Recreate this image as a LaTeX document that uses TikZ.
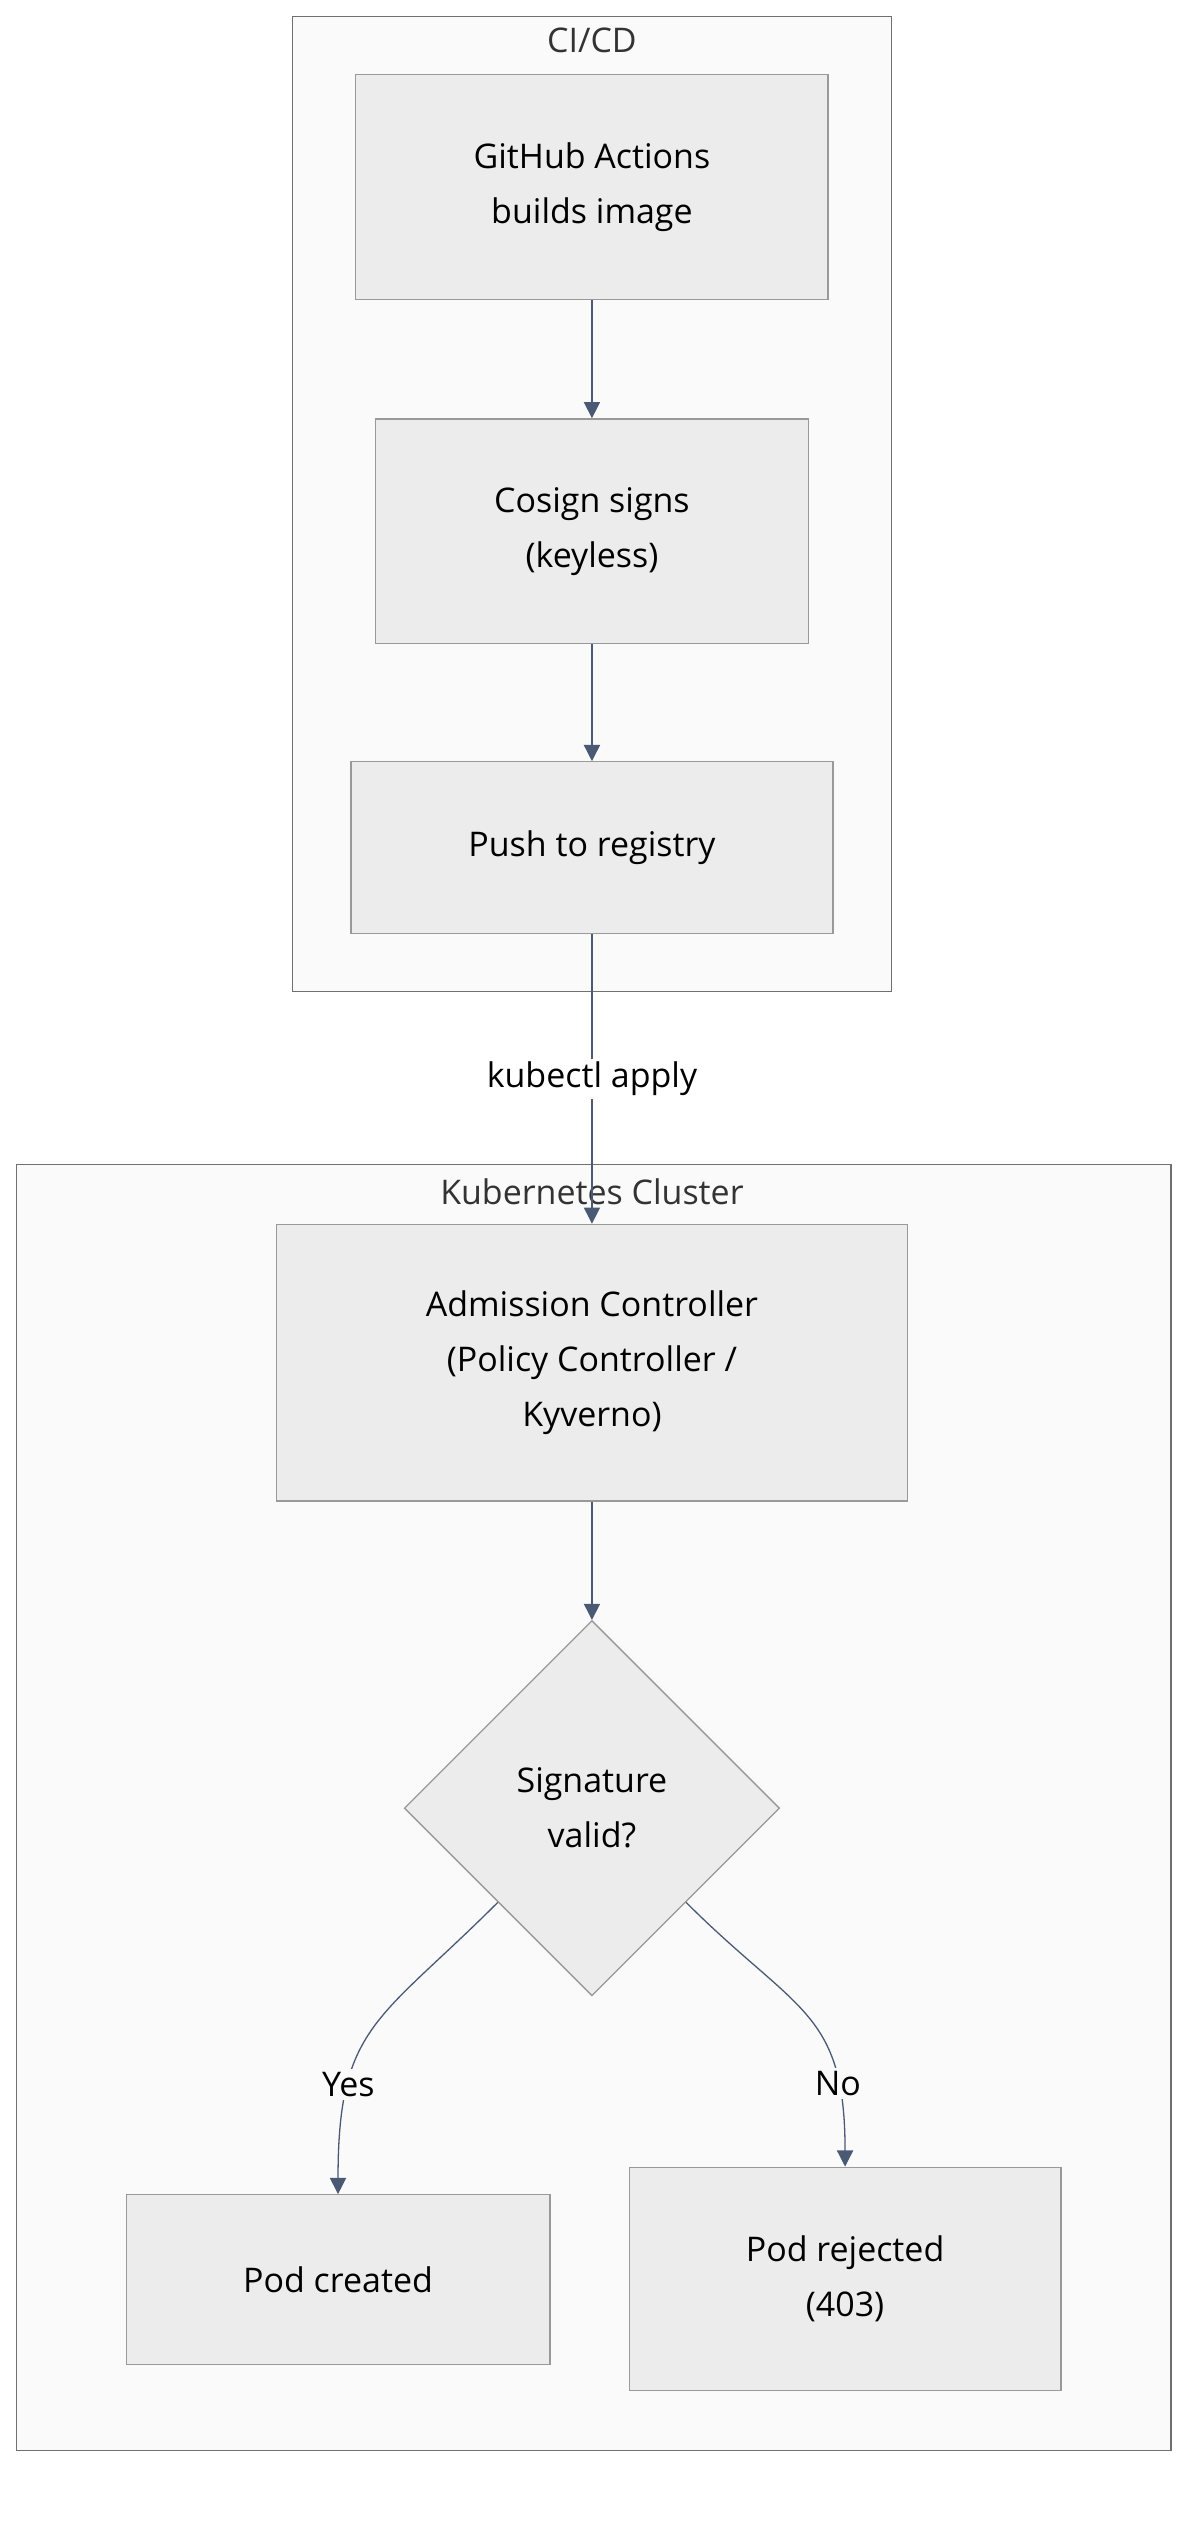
\documentclass[tikz,border=0pt]{standalone}
\usepackage{fontspec}
\setmainfont{Open Sans}
\usetikzlibrary{shapes.geometric,arrows.meta}
\definecolor{boxfill}{HTML}{ECECEC}
\definecolor{boxline}{HTML}{999999}
\definecolor{grpfill}{HTML}{FAFAFA}
\definecolor{grpline}{HTML}{707070}
\definecolor{flow}{HTML}{4A5A75}
\tikzset{
  stage/.style={rectangle, draw=boxline, fill=boxfill, align=center, font=\fontsize{10.5}{17}\selectfont, inner sep=0pt},
  check/.style={diamond, draw=boxline, fill=boxfill, align=center, font=\fontsize{10.5}{17}\selectfont, minimum width=116pt, minimum height=116pt, inner sep=0pt},
  group/.style={draw=grpline, fill=grpfill},
  grouptitle/.style={font=\fontsize{10.5}{13}\selectfont, text=black!80},
  flowline/.style={draw=flow, -{Triangle[length=5pt,width=5pt]}},
  edgelabel/.style={font=\fontsize{10.5}{13}\selectfont, inner sep=1pt}
}
\begin{document}
\begin{tikzpicture}[x=0.5pt,y=-0.5pt]
  \useasboundingbox (0,0) rectangle (743,1568);
  \fill[white] (0,0) rectangle (743,1568);

  % groups
  \draw[group] (181,10) rectangle (551,613);
  \node[grouptitle] (cicd) at (366,25) {CI/CD};
  \draw[group] (10,720) rectangle (724,1515);
  \node[grouptitle] (k8s) at (366,737) {Kubernetes Cluster};

  % stages
  \node[stage, minimum width=146pt, minimum height=69.5pt] (build) at (366,115.5) {GitHub Actions\\builds image};
  \node[stage, minimum width=134pt, minimum height=69.5pt] (sign) at (366,328.5) {Cosign signs\\(keyless)};
  \node[stage, minimum width=149pt, minimum height=53pt] (push) at (366,524) {Push to registry};
  \node[stage, minimum width=195pt, minimum height=85.5pt] (admit) at (366,842.5) {Admission Controller\\(Policy Controller /\\Kyverno)};
  \node[check] (valid) at (366,1118) {Signature\\valid?};
  \node[stage, minimum width=131pt, minimum height=52.5pt] (created) at (209,1409.5) {Pod created};
  \node[stage, minimum width=133.5pt, minimum height=69pt] (rejected) at (522.5,1409) {Pod rejected\\(403)};

  % connectors
  \draw[flowline] (build) -- (sign);
  \draw[flowline] (sign) -- (push);
  \draw[flowline] (push) -- node[edgelabel, fill=white] {kubectl apply} (admit);
  \draw[flowline] (admit) -- (valid);
  \draw[flowline] (valid.south west) to[out=-135,in=90,looseness=1.3] node[edgelabel, fill=grpfill, pos=0.72] {Yes} (created.north);
  \draw[flowline] (valid.south east) to[out=-45,in=90,looseness=1.3] node[edgelabel, fill=grpfill, pos=0.78] {No} (rejected.north);
\end{tikzpicture}
\end{document}
